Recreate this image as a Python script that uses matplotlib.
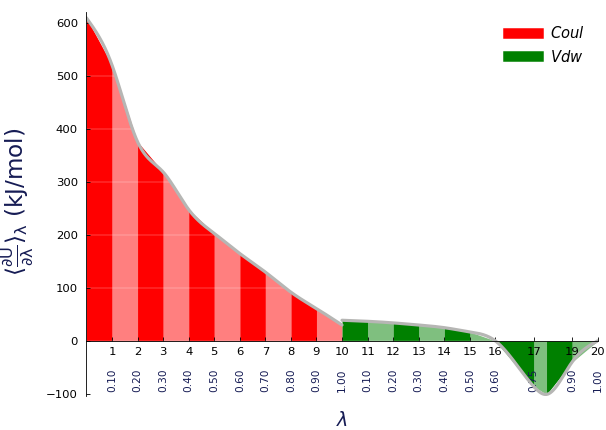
import numpy as np
import matplotlib
matplotlib.use("Agg")
from matplotlib import pyplot as plt
from matplotlib.lines import Line2D

# <dU/dl> averages for each lambda window, per component
coul_lambdas = [0.0, 0.1, 0.2, 0.3, 0.4, 0.5, 0.6, 0.7, 0.8, 0.9, 1.0]
coul_dhdl = [610, 521, 376, 319, 248, 203, 165, 130, 92, 61, 30]
vdw_lambdas = [0.0, 0.1, 0.2, 0.3, 0.4, 0.5, 0.6, 0.75, 0.8, 0.9, 1.0]
vdw_dhdl = [39, 37, 34, 30, 25, 17, 0, -86, -101, -40, 0]

components = ["Coul", "Vdw"]
state_labels = [str(i) for i in range(1, 21)]
hidden_states = ["18"]  # too close to its neighbours to label

colors = ['r', 'g']


def natural_cubic_spline(x, y, xnew):
    x = np.asarray(x, float)
    y = np.asarray(y, float)
    n = len(x)
    h = np.diff(x)
    A = np.zeros((n - 2, n - 2))
    rhs = np.zeros(n - 2)
    for i in range(1, n - 1):
        A[i - 1, i - 1] = 2 * (h[i - 1] + h[i])
        if i > 1:
            A[i - 1, i - 2] = h[i - 1]
        if i < n - 2:
            A[i - 1, i] = h[i]
        rhs[i - 1] = 6 * ((y[i + 1] - y[i]) / h[i] - (y[i] - y[i - 1]) / h[i - 1])
    M = np.zeros(n)
    M[1:-1] = np.linalg.solve(A, rhs)
    k = np.clip(np.searchsorted(x, xnew) - 1, 0, n - 2)
    t0 = x[k + 1] - xnew
    t1 = xnew - x[k]
    hk = h[k]
    return (M[k] * t0 ** 3 / (6 * hk) + M[k + 1] * t1 ** 3 / (6 * hk)
            + (y[k] / hk - M[k] * hk / 6) * t0
            + (y[k + 1] / hk - M[k + 1] * hk / 6) * t1)


dpi = 75.75
fig = plt.figure(figsize=(606 / dpi, 430 / dpi), dpi=dpi)
ax = fig.add_axes([0.1426, 0.0791, 0.8436, 0.893])
ax.spines['bottom'].set_position('zero')
ax.spines['top'].set_color('none')
ax.spines['right'].set_color('none')
ax.xaxis.set_ticks_position('bottom')
ax.yaxis.set_ticks_position('left')
for k, spine in ax.spines.items():
    spine.set_zorder(12.2)

xs = []
handles = []
for ndx, (lams, y) in enumerate([(coul_lambdas, coul_dhdl), (vdw_lambdas, vdw_dhdl)]):
    x = np.array(lams) + ndx
    y = np.array(y, float)
    for i in range(len(x) - 1):
        alpha = 1.0 if i % 2 == 0 else 0.5
        ax.fill_between(x[i:i + 2], 0, y[i:i + 2], color=colors[ndx], alpha=alpha, lw=0)
    new_x = np.linspace(0, 1, 1001)
    ys = natural_cubic_spline(lams, y, new_x)
    ax.plot(new_x + ndx, ys, color='#B6B6B4', lw=3.0, solid_capstyle='round', zorder=10)
    handles.append(Line2D([], [], color=colors[ndx], lw=10, label=r'$%s$' % components[ndx]))
    xs += x.tolist()[1:]

ticks = [(xv, lab) for xv, lab in zip(xs, state_labels) if lab not in hidden_states]
ax.set_xticks([t[0] for t in ticks])
ax.set_xticklabels([t[1] for t in ticks])
ax.tick_params(axis='both', direction='in', labelsize=11)
ax.tick_params(axis='x', pad=6)
ax.tick_params(axis='y', pad=8)
for xv, lab in ticks:
    ax.annotate('%.2f' % (xv - 1.0 if xv > 1.0 else xv), xy=(xv, 0), xytext=(xv, 0.01),
                size=10, rotation=90, textcoords=('data', 'axes fraction'),
                va='bottom', ha='center', color='#151B54')

ax.set_xlim(0, 2)
ax.set_ylim(-104, 621)
ax.set_yticks(range(-100, 601, 100))
ax.grid(which='both', color='w', lw=0.25, axis='y', zorder=12)
ax.set_axisbelow(False)

ax.set_ylabel(r'$\mathrm{\langle{\frac{ \partial U } { \partial \lambda }}\rangle_{\lambda}\ (kJ/mol)}$',
              fontsize=22, color='#151B54')
ax.yaxis.set_label_coords(-0.10, 0.505)
ax.annotate(r'$\mathit{\lambda}$', xy=(0, 0), xytext=(0.5, -0.04), size=18,
            textcoords='axes fraction', va='top', ha='center', color='#151B54')

lege = ax.legend(handles=handles, prop={'size': 14}, frameon=False, loc=1)

fig.savefig("out.png", dpi=dpi)
